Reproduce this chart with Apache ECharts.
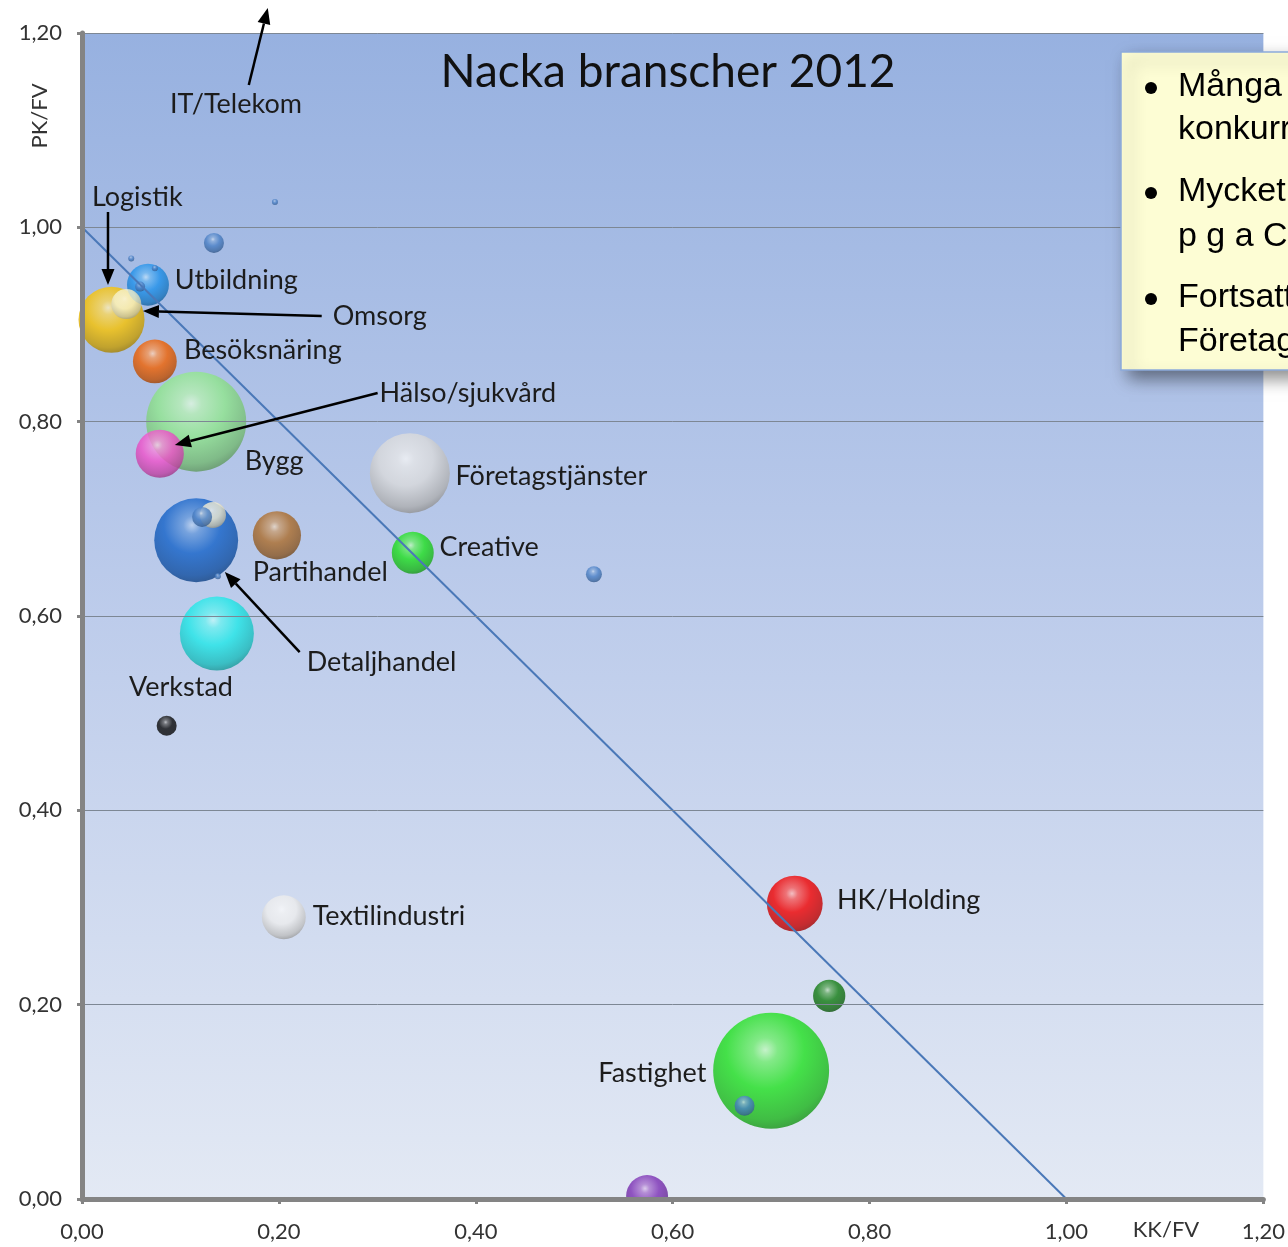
<!DOCTYPE html>
<html>
<head>
<meta charset="utf-8">
<script src="https://cdn.jsdelivr.net/npm/echarts@6/dist/echarts.min.js"></script>
<style>html,body{margin:0;padding:0;background:#fff}#c{width:1288px;height:1247px}</style>
</head>
<body>
<div id="c"></div>
<script>
// ---------- data ----------
const bubbleNames = ['Fastighet','Bygg','Blå','Företagstjänster','Detaljhandel','Logistik','HK/Holding','Partihandel','Hälso/sjukvård','Besöksnäring','Textilindustri','Utbildning','Creative','Lila','Mörkgrön','Omsorg','Kräm','Blå a','Blå b','Verkstad','Blå c','Blå d','Blå e','Liten f','Liten g','Liten h','Liten i'];
const kkFv    = [0.700,0.116,0.116,0.333,0.137,0.030,0.724,0.198,0.079,0.074,0.205,0.067,0.336,0.574,0.759,0.045,0.133,0.122,0.134,0.086,0.673,0.520,0.059,0.074,0.050,0.196,0.138];
const pkFv    = [0.132,0.800,0.678,0.747,0.582,0.905,0.304,0.683,0.767,0.862,0.290,0.941,0.665,0.003,0.209,0.921,0.704,0.702,0.984,0.487,0.096,0.643,0.939,0.958,0.968,1.026,0.641];
const storlek = [33.6,25.0,17.6,16.0,13.7,10.9,7.8,5.8,5.8,4.8,4.8,4.4,4.4,4.4,2.6,2.25,1.7,1.0,1.0,1.0,1.0,0.64,0.25,0.09,0.09,0.09,0.09];

const labelTexts = ['IT/Telekom','Logistik','Utbildning','Omsorg','Besöksnäring','Hälso/sjukvård','Bygg','Företagstjänster','Creative','Partihandel','Detaljhandel','Verkstad','Textilindustri','HK/Holding','Fastighet'];
const labelKk = [0.0893,0.0101,0.0943,0.2546,0.1035,0.3023,0.1653,0.3794,0.3632,0.1735,0.2282,0.0477,0.2343,0.7669,0.5245];
const labelPk = [1.1269,1.0312,0.9458,0.9087,0.8737,0.8295,0.7595,0.7441,0.6710,0.6453,0.5526,0.5269,0.2912,0.3077,0.1297];

// arrows (data coordinates): from -> to
const arrowFrom = [[0.1694,1.1465],[0.0264,1.0158],[0.2435,0.9087],[0.3003,0.8295],[0.2211,0.5629]];
const arrowTo   = [[0.1887,1.2257],[0.0264,0.9406],[0.0619,0.9139],[0.0943,0.7760],[0.1451,0.6453]];

const diagonal = [[0,1],[1,0]];

const titleText = 'Nacka branscher 2012';
const boxLines = ['Många','konkurrens','Mycket','p g a C','Fortsatt','Företag'];

// ---------- styles ----------
const bubbleColors = ['#1fe01f','#90e68c','#1462c8','#dadada','#1fe8e8','#f8c200','#f00000','#ac6c2a','#f050ca','#f06000','#ececec','#1e90ea','#1fe01f','#7a2eb4','#127c12','#f6f2cc','#f0eace','#4a80c6','#4a80c6','#0a0a0a','#4a80c6','#4a80c6','#4a80c6','#4a80c6','#4a80c6','#4a80c6','#4a80c6'];

function mix(hex, t, target){
  const n = parseInt(hex.slice(1),16);
  let r=(n>>16)&255,g=(n>>8)&255,b=n&255;
  r=Math.round(r+(target-r)*t);g=Math.round(g+(target-g)*t);b=Math.round(b+(target-b)*t);
  return 'rgb('+r+','+g+','+b+')';
}
function sphere(hex){
  return {type:'radial',x:0.45,y:0.32,r:0.75,colorStops:[
    {offset:0,color:mix(hex,0.72,255)},
    {offset:0.14,color:mix(hex,0.35,255)},
    {offset:0.45,color:hex},
    {offset:0.8,color:mix(hex,0.2,0)},
    {offset:0.93,color:mix(hex,0.36,0)},
    {offset:1,color:mix(hex,0.2,0)}
  ]};
}
const fmt = v => v.toFixed(2).replace('.',',');

const bubbleData = kkFv.map((x,i)=>({
  name:bubbleNames[i], value:[x,pkFv[i],storlek[i]],
  itemStyle:{color:sphere(bubbleColors[i])}
}));
const labelData = labelTexts.map((t,i)=>({name:t, coord:[labelKk[i],labelPk[i]]}));

const chart = echarts.init(document.getElementById('c'),null,{renderer:'canvas'});
const axisCommon = {
  type:'value', min:0, max:1.2, interval:0.2, z:10,
  axisLine:{show:true,onZero:false,lineStyle:{color:'#848484',width:5}},
  axisTick:{show:true,length:5,lineStyle:{color:'#848484',width:3}},
  axisLabel:{formatter:fmt,color:'#333',fontSize:22,fontFamily:'Lato'},
  splitLine:{show:true,lineStyle:{color:'#7d8794',width:1}}
};
chart.setOption({
  animation:false,
  grid:{left:82,right:23,top:33,bottom:48,show:true,borderWidth:0,
    backgroundColor:{type:'linear',x:0,y:0,x2:0,y2:1,colorStops:[{offset:0,color:'#97b1e0'},{offset:0.5,color:'#bdcceb'},{offset:1,color:'#e3e9f4'}]}},
  xAxis:Object.assign({},axisCommon,{axisLabel:Object.assign({},axisCommon.axisLabel,{margin:22}),splitLine:{show:false}}),
  yAxis:Object.assign({},axisCommon,{axisLabel:Object.assign({},axisCommon.axisLabel,{margin:20})}),
  series:[
    {type:'scatter', data:bubbleData, symbol:'circle', z:2,
     symbolSize:v=>Math.sqrt(v[2])*20, silent:true},
    {type:'line', data:diagonal, showSymbol:false, symbol:'none', z:4, clip:false, silent:true,
     lineStyle:{color:'#4a78b8',width:2},
     markPoint:{silent:true, symbol:'circle', symbolSize:0,
       label:{show:true,position:'right',distance:0,formatter:'{b}',color:'#1c1c1c',fontSize:27,fontFamily:'Lato'},
       data:labelData}
    }
  ]
});

// ---------- graphics (title, axis names, arrows, text box) ----------
const px = c => chart.convertToPixel({gridIndex:0}, c);
const g = [];
g.push({type:'rect',id:'mask',z:6,shape:{x:0,y:1202,width:1288,height:45},style:{fill:'#fff'}});
g.push({type:'text',id:'title',z:20,style:{text:titleText,x:668,y:72,align:'center',verticalAlign:'middle',font:'46px Lato',fill:'#111'}});
g.push({type:'text',id:'yname',z:20,x:40,y:116,rotation:Math.PI/2,style:{text:'PK/FV',x:0,y:0,align:'center',verticalAlign:'middle',font:'22px Lato',fill:'#333'}});
g.push({type:'text',id:'xname',z:20,style:{text:'KK/FV',x:1166,y:1230,align:'center',verticalAlign:'middle',font:'22px Lato',fill:'#333'}});
arrowFrom.forEach((f,i)=>{
  const a = px(f), b = px(arrowTo[i]);
  const dx=b[0]-a[0], dy=b[1]-a[1], L=Math.hypot(dx,dy), ux=dx/L, uy=dy/L;
  const hl=16, hw=6.5;
  const bx=b[0]-ux*hl, by=b[1]-uy*hl;
  g.push({type:'line',id:'al'+i,z:15,shape:{x1:a[0],y1:a[1],x2:bx,y2:by},style:{stroke:'#000',lineWidth:2.5}});
  g.push({type:'polygon',id:'ah'+i,z:15,shape:{points:[[b[0],b[1]],[bx-uy*hw,by+ux*hw],[bx+uy*hw,by-ux*hw]]},style:{fill:'#000'}});
});
g.push({type:'rect',id:'box',z:30,shape:{x:1121,y:52,width:200,height:318},style:{fill:'#fdfdd4',stroke:'#8cabdc',lineWidth:1.5,shadowBlur:16,shadowOffsetX:8,shadowOffsetY:8,shadowColor:'rgba(0,0,0,0.45)'}});
[88,193,299].forEach((cy,i)=>g.push({type:'circle',id:'bul'+i,z:31,shape:{cx:1151,cy:cy,r:6},style:{fill:'#000'}}));
const lineYs=[87,130,192,237,298,342];
boxLines.forEach((t,i)=>g.push({type:'text',id:'bt'+i,z:31,style:{text:t,x:1178,y:lineYs[i],verticalAlign:'middle',font:'34px "Liberation Sans"',fill:'#000'}}));
chart.setOption({graphic:g});
</script>
</body>
</html>
